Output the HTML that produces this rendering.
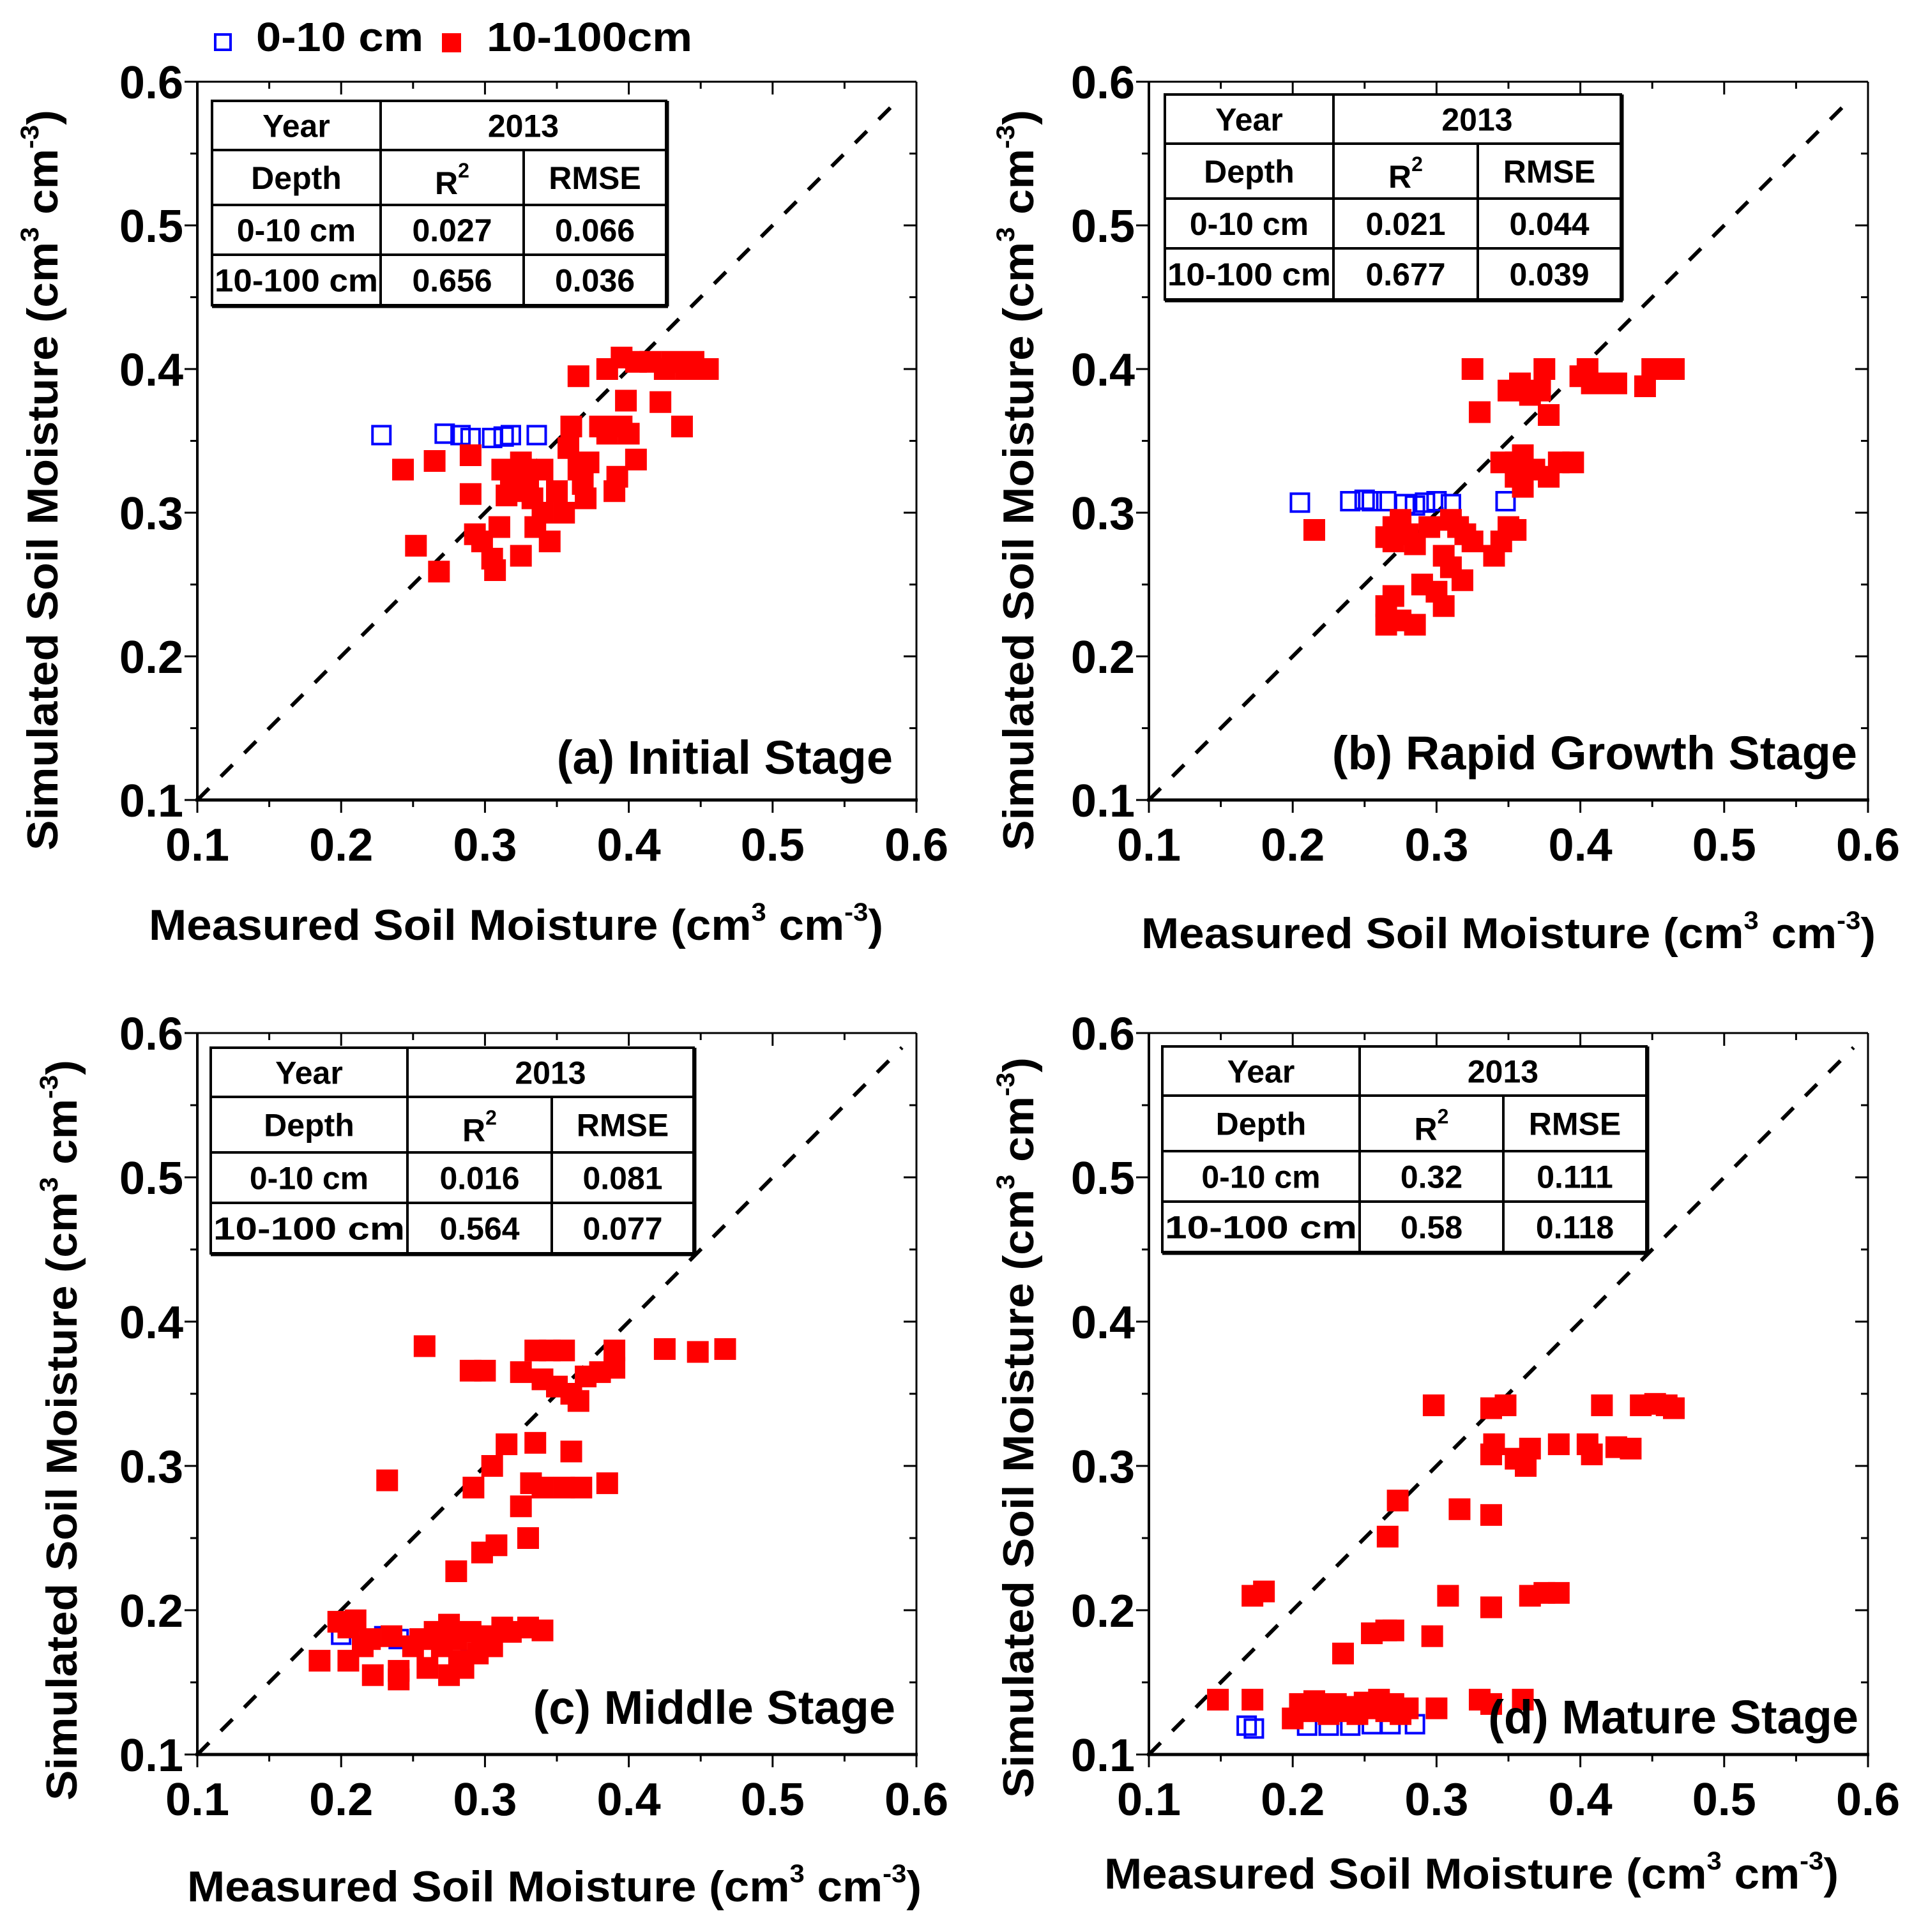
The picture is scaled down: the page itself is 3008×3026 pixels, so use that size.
<!DOCTYPE html>
<html><head><meta charset="utf-8"><style>
html,body{margin:0;padding:0;background:#fff;}
svg{display:block;}
text{font-family:"Liberation Sans",sans-serif;}
</style></head><body>
<svg id="fig" width="3008" height="3026" viewBox="0 0 3008 3026" xmlns="http://www.w3.org/2000/svg">
<g>
<rect x="337" y="54" width="24" height="24" fill="none" stroke="#0000ff" stroke-width="4"/>
<text x="401" y="80" font-size="64" font-weight="bold" textLength="262" lengthAdjust="spacingAndGlyphs">0-10 cm</text>
<rect x="692" y="52" width="30" height="30" fill="#ff0000"/>
<text x="762" y="80" font-size="64" font-weight="bold" textLength="322" lengthAdjust="spacingAndGlyphs">10-100cm</text>
</g>
</svg>
<script>
// Panel (a) Initial Stage
const aRedX=[0.243,0.265,0.290,0.290,0.252,0.268,0.293,0.298,0.305,0.307,0.310,0.312,0.318,0.320,0.325,0.330,0.333,0.335,0.340,0.345,0.325,0.340,0.350,0.355,0.358,0.360,0.365,0.368,0.370,0.372,0.365,0.380,0.385,0.390,0.392,0.395,0.400,0.398,0.405,0.385,0.395,0.405,0.415,0.425,0.430,0.440,0.445,0.455,0.422,0.437,0.330,0.315];
const aRedY=[0.330,0.336,0.340,0.313,0.277,0.259,0.285,0.280,0.268,0.260,0.290,0.330,0.325,0.315,0.335,0.320,0.310,0.290,0.300,0.280,0.270,0.330,0.315,0.300,0.345,0.360,0.330,0.320,0.310,0.335,0.395,0.360,0.355,0.315,0.325,0.360,0.355,0.378,0.337,0.400,0.408,0.405,0.405,0.400,0.405,0.400,0.405,0.400,0.377,0.360,0.325,0.312];
const aBlueX=[0.228,0.272,0.283,0.290,0.305,0.313,0.318,0.336];
const aBlueY=[0.354,0.355,0.354,0.352,0.352,0.353,0.354,0.354];
const aStats=["0.027","0.066","0.656","0.036"];
// Panel (b) Rapid Growth Stage
const bRedX=[0.215,0.265,0.270,0.275,0.280,0.270,0.285,0.295,0.310,0.315,0.320,0.325,0.305,0.340,0.345,0.350,0.355,0.310,0.318,0.300,0.290,0.270,0.265,0.275,0.285,0.265,0.305,0.325,0.330,0.350,0.358,0.365,0.372,0.375,0.378,0.355,0.360,0.368,0.378,0.385,0.395,0.360,0.345,0.405,0.408,0.415,0.425,0.445,0.450,0.460,0.465,0.400,0.355];
const bRedY=[0.288,0.283,0.290,0.295,0.285,0.280,0.278,0.290,0.295,0.290,0.285,0.280,0.270,0.270,0.280,0.290,0.288,0.262,0.253,0.245,0.250,0.242,0.235,0.225,0.222,0.222,0.235,0.400,0.370,0.385,0.390,0.382,0.385,0.400,0.368,0.335,0.340,0.330,0.325,0.335,0.335,0.318,0.335,0.400,0.390,0.390,0.390,0.388,0.400,0.400,0.400,0.395,0.325];
const bBlueX=[0.205,0.240,0.250,0.255,0.265,0.278,0.285,0.292,0.300,0.310,0.348];
const bBlueY=[0.307,0.308,0.309,0.308,0.308,0.306,0.305,0.307,0.308,0.306,0.308];
const bStats=["0.021","0.044","0.677","0.039"];
// Panel (c) Middle Stage
const cRedX=[0.258,0.290,0.300,0.325,0.335,0.345,0.355,0.340,0.350,0.360,0.365,0.370,0.380,0.390,0.390,0.425,0.448,0.467,0.232,0.315,0.335,0.360,0.305,0.292,0.332,0.340,0.355,0.367,0.385,0.325,0.330,0.308,0.298,0.280,0.185,0.198,0.205,0.210,0.215,0.220,0.222,0.205,0.235,0.240,0.240,0.250,0.255,0.260,0.265,0.270,0.275,0.280,0.275,0.282,0.290,0.298,0.305,0.312,0.318,0.330,0.340,0.295,0.285];
const cRedY=[0.383,0.366,0.366,0.365,0.380,0.380,0.380,0.360,0.355,0.350,0.345,0.362,0.365,0.380,0.368,0.381,0.379,0.381,0.290,0.315,0.316,0.310,0.300,0.285,0.288,0.285,0.285,0.285,0.288,0.272,0.250,0.245,0.240,0.227,0.165,0.192,0.188,0.193,0.175,0.180,0.155,0.165,0.182,0.158,0.152,0.175,0.180,0.160,0.185,0.175,0.190,0.180,0.155,0.165,0.185,0.182,0.175,0.188,0.185,0.188,0.186,0.170,0.160];
const cBlueX=[0.200,0.230,0.240,0.275,0.290,0.305];
const cBlueY=[0.183,0.182,0.180,0.180,0.178,0.182];
const cStats=["0.016","0.081","0.564","0.077"];
// Panel (d) Mature Stage
const dRedX=[0.148,0.172,0.172,0.180,0.200,0.205,0.210,0.215,0.220,0.225,0.230,0.235,0.240,0.245,0.250,0.255,0.260,0.265,0.270,0.275,0.280,0.235,0.255,0.265,0.270,0.266,0.273,0.297,0.300,0.308,0.316,0.298,0.330,0.338,0.338,0.338,0.360,0.338,0.348,0.338,0.340,0.355,0.362,0.365,0.385,0.405,0.408,0.425,0.435,0.415,0.442,0.452,0.460,0.465,0.365,0.375,0.385];
const dRedY=[0.138,0.138,0.210,0.213,0.125,0.135,0.130,0.137,0.132,0.128,0.135,0.130,0.133,0.128,0.136,0.132,0.138,0.130,0.135,0.128,0.132,0.170,0.184,0.186,0.186,0.251,0.276,0.182,0.132,0.210,0.270,0.342,0.138,0.135,0.266,0.202,0.138,0.340,0.342,0.308,0.315,0.305,0.300,0.312,0.315,0.315,0.308,0.313,0.312,0.342,0.342,0.343,0.342,0.340,0.210,0.212,0.212];
const dBlueX=[0.168,0.173,0.210,0.225,0.240,0.255,0.268,0.285];
const dBlueY=[0.120,0.118,0.120,0.120,0.120,0.121,0.121,0.121];
const dStats=["0.32","0.111","0.58","0.118"];
const tickLabels=["0.1","0.2","0.3","0.4","0.5","0.6"];
const tickValues=[0.1,0.2,0.3,0.4,0.5,0.6];

const NS="http://www.w3.org/2000/svg";
const svg=document.getElementById('fig');
function mk(tag,attrs,parent){const e=document.createElementNS(NS,tag);for(const k in attrs)e.setAttribute(k,attrs[k]);(parent||svg).appendChild(e);return e;}

const panels=[
 {id:'a',L:309,R:1435,T:128,B:1253,redX:aRedX,redY:aRedY,blueX:aBlueX,blueY:aBlueY,stats:aStats,tab:[332,596,820,1043,158,235,321,399,478],label:'(a) Initial Stage',lx:1398,ly:1212,ytx:90,yty:752,xtx:808,xty:1472},
 {id:'b',L:1799,R:2925,T:128,B:1253,redX:bRedX,redY:bRedY,blueX:bBlueX,blueY:bBlueY,stats:bStats,tab:[1824,2088,2314,2538,148,225,311,389,469],label:'(b) Rapid Growth Stage',lx:2908,ly:1205,ytx:1618,yty:752,xtx:2362,xty:1485},
 {id:'c',L:309,R:1435,T:1618,B:2748,redX:cRedX,redY:cRedY,blueX:cBlueX,blueY:cBlueY,stats:cStats,tab:[330,638,864,1086,1641,1718,1805,1884,1963],label:'(c) Middle Stage',lx:1402,ly:2700,ytx:120,yty:2240,xtx:868,xty:2978},
 {id:'d',L:1799,R:2925,T:1618,B:2748,redX:dRedX,redY:dRedY,blueX:dBlueX,blueY:dBlueY,stats:dStats,tab:[1820,2129,2354,2578,1639,1716,1803,1882,1961],label:'(d) Mature Stage',lx:2910,ly:2715,ytx:1618,yty:2236,xtx:2304,xty:2958}
];

panels.forEach(p=>{
 const g=mk('g',{});
 
 
 const xs=v=>p.L+(v-0.1)/0.5*(p.R-p.L);
 const ys=v=>p.B-(v-0.1)/0.5*(p.B-p.T);
 const ln=mk('line',{x1:xs(0.1),y1:ys(0.1),x2:xs(0.59),y2:ys(0.59),stroke:'#000','stroke-width':6,'stroke-dasharray':'26,26'},g);
 
 
 const bs=28;
 p.blueX.forEach((v,i)=>{
  const r=mk('rect',{x:xs(v)-bs/2,y:ys(p.blueY[i])-bs/2,width:bs,height:bs,fill:'none',stroke:'#0000ff','stroke-width':4},g);
  
  
 });
 const rs=34;
 p.redX.forEach((v,i)=>{
  const r=mk('rect',{x:xs(v)-rs/2,y:ys(p.redY[i])-rs/2,width:rs,height:rs,fill:'#ff0000'},g);
  
  
 });
 const fr=mk('g',{stroke:'#000'},g);
 
 
 mk('line',{x1:p.L,y1:p.T,x2:p.R,y2:p.T,'stroke-width':3},fr);
 mk('line',{x1:p.R,y1:p.T,x2:p.R,y2:p.B,'stroke-width':3},fr);
 mk('line',{x1:p.L-3,y1:p.B,x2:p.R+2,y2:p.B,'stroke-width':5},fr);
 mk('line',{x1:p.L,y1:p.T,x2:p.L,y2:p.B+2,'stroke-width':4},fr);
 for(let k=0;k<=10;k++){
  const v=0.1+k*0.05;const len=(k%2===0)?20:11;
  mk('line',{x1:xs(v),y1:p.B,x2:xs(v),y2:p.B+len,'stroke-width':3},fr);
  mk('line',{x1:xs(v),y1:p.T,x2:xs(v),y2:p.T+len,'stroke-width':3},fr);
  mk('line',{x1:p.L,y1:ys(v),x2:p.L-len,y2:ys(v),'stroke-width':3},fr);
  mk('line',{x1:p.R,y1:ys(v),x2:p.R-len,y2:ys(v),'stroke-width':3},fr);
 }
 tickValues.forEach((v,i)=>{
  const tx=mk('text',{x:xs(v),y:p.B+95,'font-size':72,'font-weight':'bold','text-anchor':'middle'},g);
  tx.textContent=tickLabels[i];
  
  
  const ty=mk('text',{x:p.L-22,y:ys(v)+26,'font-size':72,'font-weight':'bold','text-anchor':'end'},g);
  ty.textContent=tickLabels[i];
  
  
 });
 const t=p.tab;
 const tg=mk('g',{},g);
 
 
 mk('rect',{x:t[0],y:t[4],width:t[3]-t[0],height:t[8]-t[4],fill:'#fff',stroke:'#000','stroke-width':4},tg);
 mk('line',{x1:t[0],y1:t[8]+2,x2:t[3]+3,y2:t[8]+2,stroke:'#000','stroke-width':5},tg);
 mk('line',{x1:t[3]+2,y1:t[4],x2:t[3]+2,y2:t[8]+2,stroke:'#000','stroke-width':5},tg);
 [t[5],t[6],t[7]].forEach(y=>mk('line',{x1:t[0],y1:y,x2:t[3],y2:y,stroke:'#000','stroke-width':4},tg));
 mk('line',{x1:t[1],y1:t[4],x2:t[1],y2:t[8],stroke:'#000','stroke-width':4},tg);
 mk('line',{x1:t[2],y1:t[5],x2:t[2],y2:t[8],stroke:'#000','stroke-width':4},tg);
 const cx=[(t[0]+t[1])/2,(t[1]+t[2])/2,(t[2]+t[3])/2];
 const ry=[(t[4]+t[5])/2,(t[5]+t[6])/2,(t[6]+t[7])/2,(t[7]+t[8])/2];
 const cell=(x,y,s)=>{const e=mk('text',{x:x,y:y+18,'font-size':50,'font-weight':'bold','text-anchor':'middle'},tg);e.textContent=s;return e;};
 cell(cx[0],ry[0],'Year');cell((t[1]+t[3])/2,ry[0],'2013');
 cell(cx[0],ry[1],'Depth');
 const r2=cell(cx[1],ry[1]+8,'R');const sup=mk('tspan',{dy:-26,'font-size':32},r2);sup.textContent='2';
 cell(cx[2],ry[1],'RMSE');
 cell(cx[0],ry[2],'0-10 cm');cell(cx[1],ry[2],p.stats[0]);cell(cx[2],ry[2],p.stats[1]);
 const lc=cell(cx[0],ry[3],'10-100 cm');
 lc.setAttribute('textLength',(t[1]-t[0])-8);lc.setAttribute('lengthAdjust','spacingAndGlyphs');
 cell(cx[1],ry[3],p.stats[2]);cell(cx[2],ry[3],p.stats[3]);
 const sl=mk('text',{x:p.lx,y:p.ly,'font-size':74,'font-weight':'bold','text-anchor':'end'},g);
 sl.textContent=p.label;
 
 
 const xt=mk('text',{x:p.xtx,y:p.xty,'font-size':68,'font-weight':'bold','text-anchor':'middle',textLength:1150,lengthAdjust:'spacingAndGlyphs'},g);
 
 
 xt.innerHTML='Measured Soil Moisture (cm<tspan dy="-30" font-size="40">3</tspan><tspan dy="30"> cm</tspan><tspan dy="-30" font-size="40">-3</tspan><tspan dy="30">)</tspan>';
 const yt=mk('text',{x:0,y:0,'font-size':68,'font-weight':'bold','text-anchor':'middle',textLength:1160,lengthAdjust:'spacingAndGlyphs',transform:'translate('+p.ytx+','+p.yty+') rotate(-90)'},g);
 
 
 yt.innerHTML='Simulated Soil Moisture (cm<tspan dy="-30" font-size="40">3</tspan><tspan dy="30"> cm</tspan><tspan dy="-30" font-size="40">-3</tspan><tspan dy="30">)</tspan>';
});
</script>
</body></html>
